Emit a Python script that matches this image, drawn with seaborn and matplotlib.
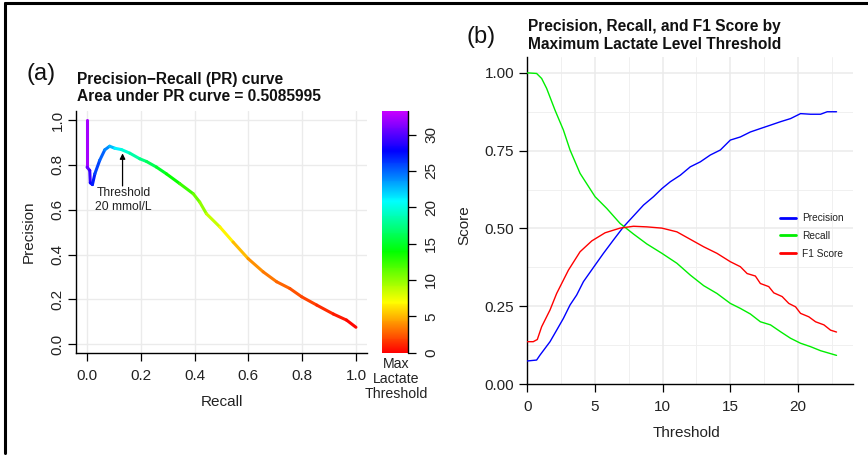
import numpy as np
import pandas as pd
import matplotlib
matplotlib.use("Agg")
import matplotlib.pyplot as plt
import seaborn as sns
from matplotlib.collections import LineCollection
from matplotlib.colors import ListedColormap, Normalize, hsv_to_rgb
from matplotlib.lines import Line2D

# ---------------- data: panel (a) PR curve ----------------
pr_recall = [0.0, 0.0, 0.01, 0.012, 0.02, 0.029, 0.047, 0.066, 0.084, 0.103, 0.128,
             0.159, 0.196, 0.221, 0.258, 0.295, 0.345, 0.395, 0.419, 0.444, 0.494,
             0.543, 0.599, 0.655, 0.705, 0.754, 0.798, 0.854, 0.916, 0.965, 1.0]
pr_precision = [1.0, 0.79, 0.775, 0.72, 0.712, 0.76, 0.82, 0.867, 0.883, 0.874, 0.868,
                0.852, 0.827, 0.815, 0.79, 0.76, 0.716, 0.671, 0.634, 0.582, 0.523,
                0.456, 0.382, 0.323, 0.279, 0.249, 0.212, 0.175, 0.135, 0.108, 0.076]
pr_threshold = [33.3, 31.0, 30.0, 28.5, 27.5, 26.5, 25.5, 24.5, 23.5, 22.0, 20.3,
                19.0, 17.8, 17.0, 15.5, 14.5, 13.0, 11.5, 10.5, 9.5, 7.5,
                6.0, 4.3, 3.6, 3.0, 2.5, 2.1, 1.6, 1.0, 0.5, 0.0]
pr_title = "Precision\u2212Recall (PR) curve\nArea under PR curve = 0.5085995"
cbar_ticks = [0, 5, 10, 15, 20, 25, 30]

# ---------------- data: panel (b) scores by threshold ----------------
prec_x = [0, 0.69, 0.94, 1.68, 2.17, 2.67, 3.16, 3.65, 4.15, 5.01, 5.63, 6.37, 7.11,
          7.85, 8.59, 9.33, 9.95, 10.57, 11.31, 12.05, 12.79, 13.53, 14.27, 15.01,
          15.75, 16.49, 17.23, 17.98, 18.72, 19.46, 20.2, 20.94, 21.68, 22.17, 22.86]
prec_y = [0.074, 0.077, 0.093, 0.136, 0.173, 0.211, 0.254, 0.286, 0.329, 0.382, 0.42,
          0.463, 0.505, 0.54, 0.575, 0.602, 0.628, 0.65, 0.671, 0.698, 0.714, 0.736,
          0.752, 0.784, 0.794, 0.81, 0.821, 0.832, 0.843, 0.853, 0.869, 0.867, 0.867,
          0.875, 0.875]
rec_x = [0, 0.69, 1.06, 1.43, 2.05, 2.67, 3.16, 3.9, 5.01, 5.88, 6.86, 7.85, 8.84,
         9.95, 11.06, 12.05, 13.04, 14.02, 15.01, 15.75, 16.49, 17.23, 17.98, 18.72,
         19.46, 20.2, 20.94, 21.68, 22.86]
rec_y = [1.0, 0.998, 0.982, 0.95, 0.88, 0.816, 0.752, 0.677, 0.602, 0.564, 0.516,
         0.482, 0.45, 0.42, 0.388, 0.35, 0.316, 0.291, 0.259, 0.243, 0.225, 0.2,
         0.19, 0.168, 0.147, 0.131, 0.12, 0.107, 0.092]
f1_x = [0, 0.44, 0.74, 1.06, 1.68, 2.17, 3.04, 3.9, 4.77, 5.75, 6.86, 7.85, 8.84,
        9.95, 11.06, 12.05, 13.04, 14.02, 15.01, 15.75, 16.25, 16.86, 17.23, 17.85,
        18.22, 18.84, 19.33, 19.83, 20.2, 20.81, 21.31, 21.93, 22.42, 22.86]
f1_y = [0.136, 0.136, 0.143, 0.184, 0.238, 0.291, 0.366, 0.425, 0.46, 0.486, 0.501,
        0.507, 0.505, 0.501, 0.489, 0.465, 0.441, 0.42, 0.393, 0.377, 0.355, 0.347,
        0.323, 0.313, 0.293, 0.281, 0.259, 0.248, 0.227, 0.216, 0.2, 0.19, 0.173,
        0.167]
series_names = ["Precision", "Recall", "F1 Score"]
series_colors = ["#0000FF", "#00EE00", "#FF0000"]
score_title = "Precision, Recall, and F1 Score by\nMaximum Lactate Level Threshold"

# ---------------- style ----------------
sns.set_style("white")
plt.rcParams["font.family"] = ["Liberation Sans", "DejaVu Sans"]
plt.rcParams["axes.unicode_minus"] = False

W, H = 868, 455
fig = plt.figure(figsize=(W / 100, H / 100), dpi=100)
fig.patch.set_facecolor("white")

def fx(px):
    return px / W

def fy(py):
    return 1 - py / H

grid_c = "#EBEBEB"

# outer frame (top and left lines)
fig.add_artist(Line2D([fx(5), 1.0], [fy(3), fy(3)], color="black", lw=2.2))
fig.add_artist(Line2D([fx(5), fx(5)], [fy(3), fy(453)], color="black", lw=2.2))

# ---------------- panel (a) ----------------
axA = fig.add_axes([fx(76.3), fy(353.3), fx(366.7) - fx(76.3), fy(111) - fy(353.3)])
axA.set_xlim(-0.04, 1.04)
axA.set_ylim(-0.04, 1.04)
ticks01 = [0, 0.2, 0.4, 0.6, 0.8, 1.0]
axA.set_xticks(ticks01)
axA.set_yticks(ticks01)
axA.set_xticklabels([f"{t:.1f}" for t in ticks01])
axA.set_yticklabels([f"{t:.1f}" for t in ticks01], rotation=90, va="center")
for t in ticks01:
    axA.axvline(t, color=grid_c, lw=1.0, zorder=0)
    axA.axhline(t, color=grid_c, lw=1.0, zorder=0)
for s in ["top", "right"]:
    axA.spines[s].set_visible(False)
for s in ["left", "bottom"]:
    axA.spines[s].set_color("black")
    axA.spines[s].set_linewidth(1.0)
axA.tick_params(axis="both", direction="out", length=5.5, width=0.9, color="black",
                labelsize=11, labelcolor="#222222", left=True, bottom=True)
axA.tick_params(axis="x", pad=6)
axA.tick_params(axis="y", pad=3)

hues = np.linspace(0.0, 0.8, 256)
cmap_colors = hsv_to_rgb(np.column_stack([hues, np.ones_like(hues), np.ones_like(hues)]))
rainbow = ListedColormap(cmap_colors)
norm = Normalize(0, 33.3)

pts = np.column_stack([pr_recall, pr_precision])
segs = np.stack([pts[:-1], pts[1:]], axis=1)
seg_vals = (np.array(pr_threshold[:-1]) + np.array(pr_threshold[1:])) / 2
lc = LineCollection(segs, cmap=rainbow, norm=norm, linewidths=2.2, capstyle="round",
                    joinstyle="round", zorder=3)
lc.set_array(seg_vals)
axA.add_collection(lc)

axA.annotate("", xy=(0.132, 0.851), xytext=(0.132, 0.706),
             arrowprops=dict(arrowstyle="-|>", color="black", lw=0.9,
                             mutation_scale=8, shrinkA=0, shrinkB=0), zorder=4)
axA.text(0.136, 0.643, "Threshold\n20 mmol/L", ha="center", va="center",
         fontsize=8.7, color="#222222", linespacing=1.2)

axA.set_xlabel("Recall", fontsize=11, color="#222222", va="center")
axA.xaxis.set_label_coords(0.5, -0.2)
axA.set_ylabel("Precision", fontsize=11, color="#222222", va="center")
axA.yaxis.set_label_coords(-0.163, 0.5)

fig.text(fx(76.7), fy(72), pr_title, ha="left", va="top", fontsize=11.2,
         fontweight="bold", color="#111111", linespacing=1.2)
fig.text(fx(27), fy(74), "(a)", ha="left", va="center", fontsize=17, color="#111111")

# colorbar
cax = fig.add_axes([fx(382.3), fy(352.7), fx(408.3) - fx(382.3), fy(110.5) - fy(352.7)])
sm = plt.cm.ScalarMappable(cmap=rainbow, norm=norm)
cb = fig.colorbar(sm, cax=cax, ticks=cbar_ticks)
cb.outline.set_visible(False)
cax.add_artist(Line2D([1, 1], [0, 1], transform=cax.transAxes, color="black",
                      lw=1.0, clip_on=False))
cax.tick_params(axis="y", direction="out", length=5.5, width=0.9, color="black",
                labelsize=11, labelcolor="#222222", pad=6, right=True)
for lab in cax.get_yticklabels():
    lab.set_rotation(90)
    lab.set_va("center")
fig.text(fx(396.5), fy(356.5), "Max\nLactate\nThreshold", ha="center", va="top",
         fontsize=10.2, color="#222222", linespacing=1.1)

# ---------------- panel (b) ----------------
axB = fig.add_axes([fx(527.3), fy(384), fx(853.3) - fx(527.3), fy(57.3) - fy(384)])
df = pd.concat([
    pd.DataFrame({"Threshold": prec_x, "Score": prec_y, "Metric": series_names[0]}),
    pd.DataFrame({"Threshold": rec_x, "Score": rec_y, "Metric": series_names[1]}),
    pd.DataFrame({"Threshold": f1_x, "Score": f1_y, "Metric": series_names[2]}),
], ignore_index=True)
sns.lineplot(data=df, x="Threshold", y="Score", hue="Metric", hue_order=series_names,
             palette=dict(zip(series_names, series_colors)), estimator=None,
             sort=False, linewidth=1.0, ax=axB, zorder=3)
axB.set_xlim(0, 24.1)
axB.set_ylim(0, 1.05)
axB.set_xticks([0, 5, 10, 15, 20])
axB.set_yticks([0, 0.25, 0.5, 0.75, 1.0])
axB.set_yticklabels(["0.00", "0.25", "0.50", "0.75", "1.00"])
for t in [2.5, 7.5, 12.5, 17.5, 22.5]:
    axB.axvline(t, color="#F0F0F0", lw=0.7, zorder=0)
for t in [0.125, 0.375, 0.625, 0.875]:
    axB.axhline(t, color="#F0F0F0", lw=0.7, zorder=0)
for t in [5, 10, 15, 20]:
    axB.axvline(t, color=grid_c, lw=1.1, zorder=0)
for t in [0.25, 0.5, 0.75, 1.0]:
    axB.axhline(t, color=grid_c, lw=1.1, zorder=0)
for s in ["top", "right"]:
    axB.spines[s].set_visible(False)
for s in ["left", "bottom"]:
    axB.spines[s].set_color("black")
    axB.spines[s].set_linewidth(1.0)
axB.tick_params(axis="both", direction="out", length=5.5, width=0.9, color="black",
                labelsize=11, labelcolor="#222222", left=True, bottom=True)
axB.tick_params(axis="x", pad=6)
axB.tick_params(axis="y", pad=4)
axB.set_xlabel("Threshold", fontsize=11, color="#222222", va="center")
axB.xaxis.set_label_coords(0.489, -0.151)
axB.set_ylabel("Score", fontsize=11, color="#222222", va="center")
axB.yaxis.set_label_coords(-0.194, 0.487)

leg = axB.legend(loc="center left", bbox_to_anchor=(0.775, 0.453), frameon=False,
                 fontsize=7.3, handlelength=1.6, handletextpad=0.55,
                 labelspacing=0.75, borderpad=0, borderaxespad=0, title=None)
for h in leg.get_lines():
    h.set_linewidth(2.0)
for txt in leg.get_texts():
    txt.set_color("#222222")

fig.text(fx(528.3), fy(19.5), score_title, ha="left", va="top", fontsize=11.2,
         fontweight="bold", color="#111111", linespacing=1.2)
fig.text(fx(467), fy(37), "(b)", ha="left", va="center", fontsize=17, color="#111111")

fig.savefig("out.png", dpi=100, facecolor="white")
